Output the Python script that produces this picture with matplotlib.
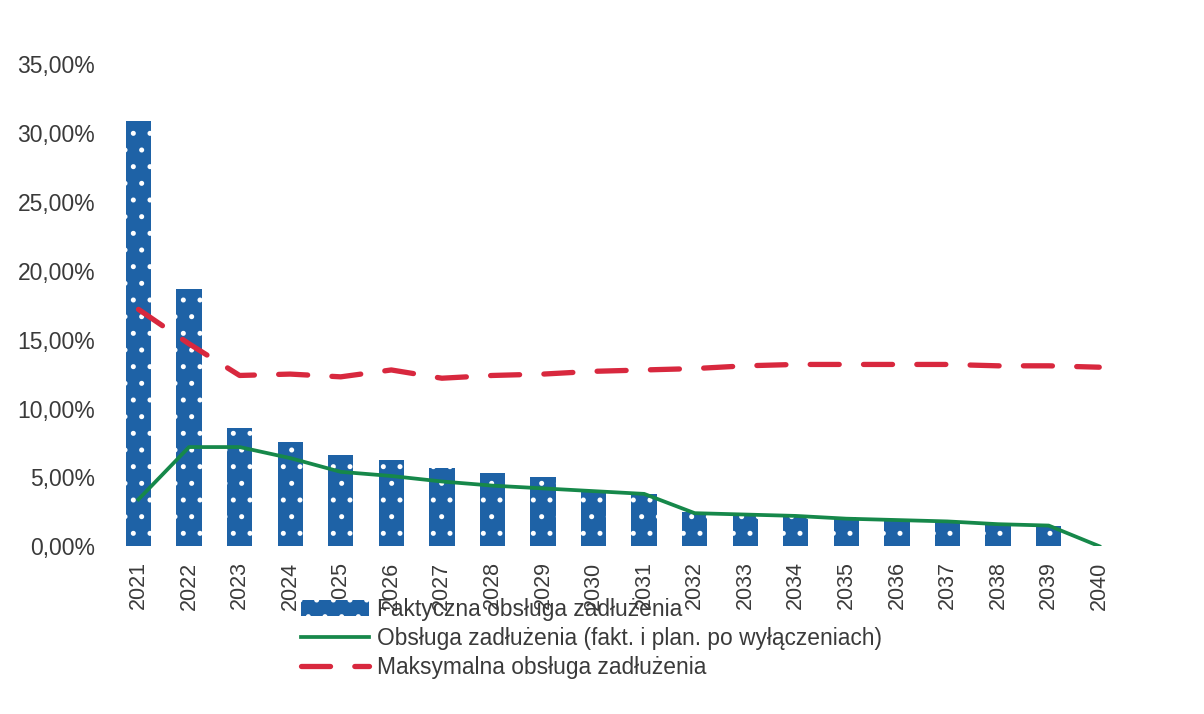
import matplotlib.pyplot as plt
import numpy as np

plt.rcParams['font.family'] = ['Liberation Sans', 'DejaVu Sans']
plt.rcParams['hatch.linewidth'] = 1.2

years = [str(y) for y in range(2021, 2041)]
faktyczna = [30.9, 18.7, 8.6, 7.6, 6.6, 6.25, 5.7, 5.3, 5.0, 4.1, 3.8,
             2.45, 2.3, 2.2, 2.15, 1.95, 1.8, 1.7, 1.5, 0.0]
obsluga_plan = [3.4, 7.2, 7.2, 6.4, 5.4, 5.1, 4.7, 4.4, 4.2, 4.0, 3.8,
                2.4, 2.3, 2.2, 2.0, 1.9, 1.8, 1.6, 1.5, 0.0]
maksymalna = [17.2, 14.7, 12.4, 12.5, 12.3, 12.8, 12.2, 12.4, 12.5, 12.7, 12.8,
              12.9, 13.1, 13.2, 13.2, 13.2, 13.2, 13.1, 13.1, 13.0]

yticks = [0, 5, 10, 15, 20, 25, 30, 35]

fig = plt.figure(figsize=(12.04, 7.14), dpi=100)
ax = fig.add_axes([0.094, 0.235, 0.840, 0.675])

x = np.arange(len(years))
b = ax.bar(x, faktyczna, width=0.5, color='#1e62a6', edgecolor='white',
           linewidth=0, hatch='.', label='Faktyczna obsługa zadłużenia')
l1, = ax.plot(x, obsluga_plan, color='#16884a', linewidth=2.7,
              label='Obsługa zadłużenia (fakt. i plan. po wyłączeniach)')
l2, = ax.plot(x, maksymalna, color='#d8283e', linewidth=3.8, linestyle=(0, (5.5, 4.6)),
              dash_capstyle='round',
              label='Maksymalna obsługa zadłużenia')

ax.set_xlim(-0.5, len(years) - 0.5)
ax.set_ylim(0, 35)
ax.set_yticks(yticks)
ax.set_yticklabels(['%d,00%%' % v for v in yticks], fontsize=16.5, color='#3a3a3a')
ax.set_xticks(x)
ax.set_xticklabels(years, rotation=90, fontsize=15.5, color='#3a3a3a')
ax.tick_params(axis='y', length=0, pad=13)
ax.tick_params(axis='x', length=0, pad=11)
for s in ax.spines.values():
    s.set_visible(False)

fig.legend(handles=[b, l1, l2], loc='upper left', bbox_to_anchor=(0.25, 0.163),
           frameon=False, fontsize=16.4, handlelength=3.0, handletextpad=0.35,
           labelspacing=0.28, borderpad=0, borderaxespad=0, labelcolor='#3a3a3a')

fig.savefig('out.png', dpi=100, facecolor='white')
